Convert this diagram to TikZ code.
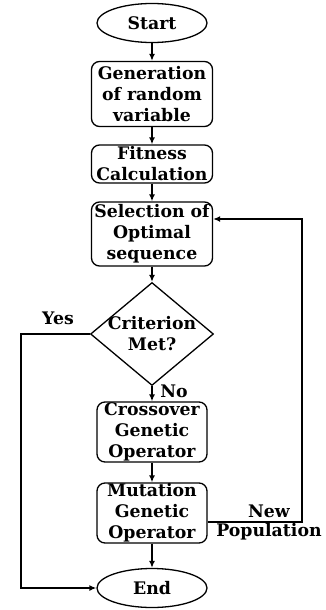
\documentclass[tikz,border=0pt]{standalone}
\usepackage{fontspec}
\setmainfont{DejaVu Serif}
\usepackage{tikz}
\usetikzlibrary{shapes.geometric, arrows.meta, positioning}

\begin{document}
\begin{tikzpicture}
  [
    x=1pt, y=-1pt,
    font=\bfseries\fontsize{17.3}{21}\selectfont,
    >={Latex[length=7pt, width=6pt]},
    Terminal/.style={ellipse, draw=black, line width=1.3pt, inner sep=0pt, minimum width=110pt, minimum height=39pt},
    Process/.style={rectangle, rounded corners=8pt, draw=black, line width=1.3pt, align=center, inner sep=0pt, minimum width=121pt},
    Small/.style={Process, minimum width=110pt, minimum height=60pt},
    Decision/.style={diamond, draw=black, line width=1.3pt, inner sep=0pt, minimum width=123pt, minimum height=103pt},
    Text/.style={align=center, inner sep=0pt}
  ]
  \useasboundingbox (0,0) rectangle (326,610);

  % Nodes
  \node[Terminal] (v0) at(152, 23) {Start};
  \node[Process, minimum height=65pt] (v1) at(152, 94) {Generation\\of random\\variable};
  \node[Process, minimum height=38pt] (v2) at(152, 164) {Fitness\\Calculation};
  \node[Process, minimum height=64pt] (v3) at(152, 234) {Selection of\\Optimal\\sequence};
  \node[Decision, label={[Text]center:Criterion\\Met?}] (v4) at(152, 334) {};
  \node[Small] (v5) at(152, 432) {Crossover\\Genetic\\Operator};
  \node[Small] (v6) at(152, 513) {Mutation\\Genetic\\Operator};
  \node[Terminal] (v7) at(152, 588) {End};

  % Labels
  \node[Text] (yes) at(58, 318) {Yes};
  \node[Text] (no) at(174, 391) {No};
  \node[Text] (new) at(269, 511) {New};
  \node[Text] (pop) at(269, 532) {Population};

  % Corners
  \coordinate (c0) at(21, 334);
  \coordinate (c1) at(302, 522);
  \coordinate (c2) at(302, 219);

  % Lines
  \path [->, draw, line width=1.8pt] (v0) -- (v1);
  \path [->, draw, line width=1.8pt] (v1) -- (v2);
  \path [->, draw, line width=1.8pt] (v2) -- (v3);
  \path [->, draw, line width=1.8pt] (v3) -- (v4);
  \path [->, draw, line width=1.8pt] (v4) -- (v5);
  \path [->, draw, line width=1.8pt] (v5) -- (v6);
  \path [->, draw, line width=1.8pt] (v6) -- (v7);
  \path [->, draw, line width=1.8pt] (v4.west) -- (c0) |- (v7.west);
  \path [->, draw, line width=1.8pt] (v6.east |- c1) -- (c1) -- (c2) -- (v3.east |- c2);

\end{tikzpicture}
\end{document}
